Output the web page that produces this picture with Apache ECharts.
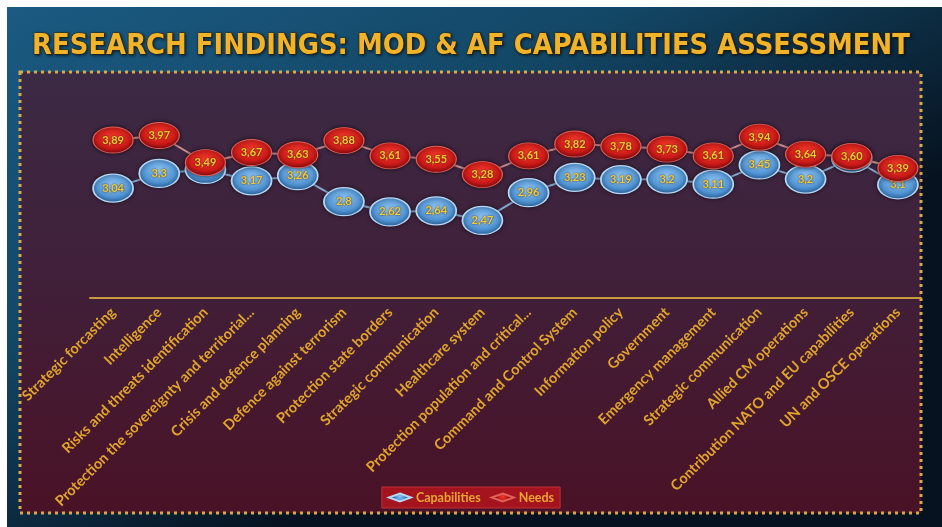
<!DOCTYPE html>
<html>
<head>
<meta charset="utf-8">
<style>
  html, body { margin: 0; padding: 0; background: #fff; }
  #chart { width: 942px; height: 527px; }
</style>
<script src="https://cdn.jsdelivr.net/npm/echarts@6/dist/echarts.min.js"></script>
</head>
<body>
<div id="chart"></div>
<script>
// categories on the x axis
const categories = [
  'Strategic forcasting',
  'Intelligence',
  'Risks and threats identification',
  'Protection the sovereignty and territorial...',
  'Crisis and defence planning',
  'Defence against terrorism',
  'Protection state borders',
  'Strategic communication',
  'Healthcare system',
  'Protection population and critical...',
  'Command and Control System',
  'Information policy',
  'Government',
  'Emergency management',
  'Strategic communication',
  'Allied CM operations',
  'Contribution NATO and EU capabilities',
  'UN and OSCE operations'
]

// series values (kept as text so the labels show them as written, e.g. 3,60)
const capabilities = ['3.04', '3.3', '3.37', '3.17', '3.26', '2.8', '2.62', '2.64', '2.47',
  '2.96', '3.23', '3.19', '3.2', '3.11', '3.45', '3.2', '3.57', '3.1']
const needs = ['3.89', '3.97', '3.49', '3.67', '3.63', '3.88', '3.61', '3.55', '3.28',
  '3.61', '3.82', '3.78', '3.73', '3.61', '3.94', '3.64', '3.60', '3.39']

const titleText = 'RESEARCH FINDINGS: MOD & AF CAPABILITIES ASSESSMENT'

const chart = echarts.init(document.getElementById('chart'))

const labelFmt = (p) => String(p.value).replace('.', ',')

const pointLabel = {
  show: true,
  position: 'inside',
  formatter: labelFmt,
  color: '#f2cc34',
  fontSize: 11,
  fontWeight: 'bold',
  fontFamily: 'Lato',
  textShadowColor: 'rgba(40,10,0,0.9)',
  textShadowBlur: 2
}

chart.setOption({
  backgroundColor: '#ffffff',
  animation: false,
  graphic: [
    {
      type: 'rect',
      z: -10,
      shape: { x: 7, y: 7, width: 935, height: 520 },
      style: {
        fill: {
          type: 'linear', x: 0, y: 0, x2: 0.3, y2: 1,
          colorStops: [
            { offset: 0, color: '#1b5a82' },
            { offset: 0.5, color: '#134766' },
            { offset: 1, color: '#06121f' }
          ]
        }
      }
    },
    {
      type: 'rect',
      z: -9,
      shape: { x: 20, y: 72, width: 901, height: 441 },
      style: {
        fill: {
          type: 'linear', x: 0, y: 0, x2: 0, y2: 1,
          colorStops: [
            { offset: 0, color: '#3c2a44' },
            { offset: 0.45, color: '#40203a' },
            { offset: 1, color: '#4a1226' }
          ]
        },
        stroke: '#d6a94a',
        lineWidth: 3,
        lineDash: [3, 4]
      }
    }
  ],
  title: {
    text: titleText,
    left: 'center',
    top: 27,
    textStyle: {
      color: '#f0b32a',
      fontFamily: "'DejaVu Sans Condensed', 'Open Sans', sans-serif",
      fontWeight: 'bold',
      fontSize: 28.8,
      textBorderColor: '#4a3000',
      textBorderWidth: 1,
      textShadowColor: 'rgba(0,0,0,0.6)',
      textShadowBlur: 3,
      textShadowOffsetX: 1,
      textShadowOffsetY: 1
    }
  },
  legend: {
    bottom: 19,
    left: 'center',
    itemWidth: 22,
    itemHeight: 8,
    itemGap: 10,
    padding: [4, 6],
    backgroundColor: '#a3141f',
    borderColor: '#c0303a',
    borderWidth: 1,
    textStyle: { color: '#e8a632', fontSize: 12.5, fontWeight: 'bold', fontFamily: 'Lato' },
    data: [
      { name: 'Capabilities', icon: 'diamond' },
      { name: 'Needs', icon: 'diamond' }
    ]
  },
  grid: { left: 90, right: 21, top: 80, bottom: 229 },
  xAxis: {
    type: 'category',
    data: categories,
    boundaryGap: true,
    axisLine: { lineStyle: { color: '#c99b3c', width: 2 } },
    axisTick: { show: false },
    axisLabel: {
      interval: 0,
      rotate: 45,
      margin: 12,
      color: '#e0a52a',
      fontSize: 14.5,
      fontWeight: 'bold',
      fontFamily: 'Lato'
    }
  },
  yAxis: {
    type: 'value',
    min: 1.1,
    max: 4.95,
    show: false,
    splitLine: { show: false }
  },
  series: [
    {
      name: 'Capabilities',
      type: 'line',
      z: 2,
      data: capabilities,
      symbol: 'circle',
      symbolSize: [40, 28],
      lineStyle: { color: '#86a6cc', width: 2 },
      itemStyle: {
        color: {
          type: 'radial', x: 0.5, y: 0.4, r: 0.6,
          colorStops: [
            { offset: 0, color: '#8cc2f0' },
            { offset: 0.7, color: '#4f92d2' },
            { offset: 1, color: '#2d6aa8' }
          ]
        },
        borderColor: '#b6d6f4',
        borderWidth: 1.5,
        shadowColor: 'rgba(0,0,0,0.5)',
        shadowBlur: 4
      },
      label: pointLabel
    },
    {
      name: 'Needs',
      type: 'line',
      z: 3,
      data: needs,
      symbol: 'circle',
      symbolSize: [40, 26],
      lineStyle: { color: '#c98a8c', width: 2 },
      itemStyle: {
        color: {
          type: 'radial', x: 0.5, y: 0.4, r: 0.6,
          colorStops: [
            { offset: 0, color: '#f03a2a' },
            { offset: 0.7, color: '#cc1a18' },
            { offset: 1, color: '#8a0c10' }
          ]
        },
        borderColor: '#e0605a',
        borderWidth: 1,
        shadowColor: 'rgba(0,0,0,0.6)',
        shadowBlur: 4
      },
      label: pointLabel
    }
  ]
})
</script>
</body>
</html>
